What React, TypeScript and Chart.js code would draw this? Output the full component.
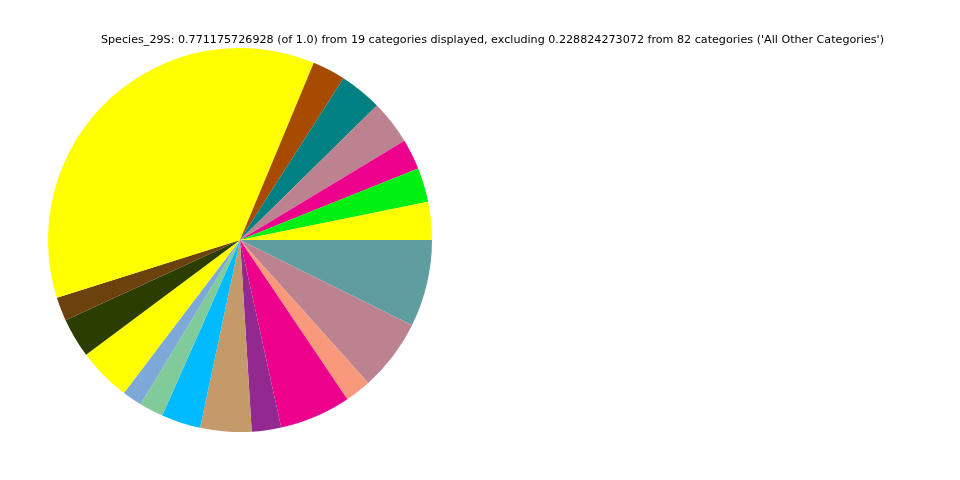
import React, { useEffect, useRef } from "react";
import { Chart, registerables } from "chart.js";

Chart.register(...registerables);

const TITLE =
  "Species_29S: 0.771175726928 (of 1.0) from 19 categories displayed, excluding 0.228824273072 from 82 categories ('All Other Categories')";

// Categories listed counter-clockwise starting from 3 o'clock
const categories = [
  "Cat 01", "Cat 02", "Cat 03", "Cat 04", "Cat 05", "Cat 06", "Cat 07",
  "Cat 08", "Cat 09", "Cat 10", "Cat 11", "Cat 12", "Cat 13", "Cat 14",
  "Cat 15", "Cat 16", "Cat 17", "Cat 18", "Cat 19",
];

const values = [
  0.02463, 0.02228, 0.01971, 0.0287, 0.02763, 0.02142, 0.27869,
  0.01542, 0.02571, 0.03449, 0.01285, 0.01564, 0.02549, 0.0332,
  0.01907, 0.04627, 0.01692, 0.04648, 0.05655,
];

const colors = [
  "#ffff00", "#00f012", "#ec008c", "#bc8290", "#008080", "#a64b00", "#ffff00",
  "#6b420e", "#2b3d00", "#ffff00", "#7ea8d8", "#80cb99", "#00bbff", "#c49a6a",
  "#942891", "#ec008c", "#f7997a", "#bc8290", "#5f9ea0",
];

const titlePlugin = {
  id: "figTitle",
  afterDraw(chart: Chart) {
    const ctx = chart.ctx;
    ctx.save();
    ctx.font = "11.15px 'DejaVu Sans'";
    ctx.fillStyle = "#000000";
    ctx.textAlign = "center";
    ctx.textBaseline = "middle";
    ctx.fillText(TITLE, 492.5, 40.5);
    ctx.restore();
  },
};

export default function App() {
  const ref = useRef<HTMLCanvasElement | null>(null);

  useEffect(() => {
    if (!ref.current) return;
    // Chart.js sweeps clockwise, so reverse to keep the counter-clockwise order
    const labels = [...categories].reverse();
    const data = [...values].reverse();
    const bg = [...colors].reverse();
    const chart = new Chart(ref.current, {
      type: "pie",
      data: {
        labels,
        datasets: [
          {
            data,
            backgroundColor: bg,
            borderWidth: 0,
          },
        ],
      },
      options: {
        responsive: false,
        animation: false,
        rotation: 90,
        layout: { padding: { left: 48, top: 48, right: 528, bottom: 48 } },
        plugins: {
          legend: { display: false },
          tooltip: { enabled: false },
          title: { display: false },
        },
      },
      plugins: [titlePlugin],
    });
    return () => chart.destroy();
  }, []);

  return (
    <div style={{ position: "absolute", left: 0, top: 0, width: 960, height: 480, background: "#ffffff" }}>
      <canvas ref={ref} width={960} height={480} />
    </div>
  );
}
